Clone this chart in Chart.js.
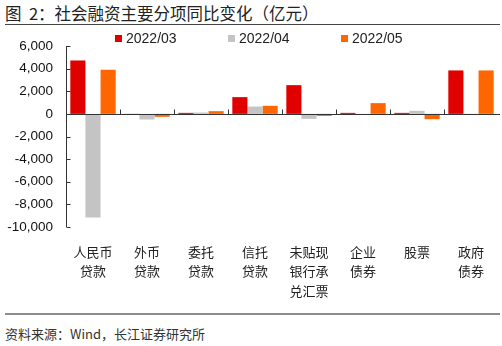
<!DOCTYPE html>
<html>
<head>
<meta charset="utf-8">
<script src="https://cdn.jsdelivr.net/npm/chart.js@4.4.0/dist/chart.umd.min.js"></script>
<style>
    body { margin: 0; background: #fff; }
    #wrap { position: relative; width: 502px; height: 346px; overflow: hidden; font-family: "Noto Sans CJK SC", "Liberation Sans", sans-serif; }
    #title { position: absolute; left: 5px; top: 3px; font-size: 16.5px; color: #222; white-space: nowrap; line-height: 20px; }
    #topLine { position: absolute; left: 5px; top: 24px; width: 495px; height: 1px; background: #444; }
    #legend { position: absolute; top: 29px; left: 0; width: 502px; height: 18px; font-family: "Liberation Sans", Arial, sans-serif; font-size: 14px; color: #222; }
    #legend span.item { position: absolute; top: 0; line-height: 18px; white-space: nowrap; }
    #legend i { display: inline-block; width: 7px; height: 7px; margin-right: 4px; vertical-align: 1px; }
    #chartBox { position: absolute; left: 0; top: 0; width: 502px; height: 310px; }
    #bottomLine { position: absolute; left: 5px; top: 313px; width: 495px; height: 2px; background: #8c8c8c; }
    #source { position: absolute; left: 5px; top: 325px; font-size: 13px; color: #333; white-space: nowrap; line-height: 18px; }
</style>
</head>
<body>
<div id="wrap">
    <div id="title">图&nbsp;&nbsp;2：社会融资主要分项同比变化（亿元）</div>
    <div id="topLine"></div>
    <div id="chartBox"><canvas id="financeChart"></canvas></div>
    <div id="legend"></div>
    <div id="bottomLine"></div>
    <div id="source">资料来源：Wind，长江证券研究所</div>
</div>
<script>
const categories = [
    ['人民币', '贷款'],
    ['外币', '贷款'],
    ['委托', '贷款'],
    ['信托', '贷款'],
    ['未贴现', '银行承', '兑汇票'],
    ['企业', '债券'],
    ['股票'],
    ['政府', '债券']
];
const seriesNames = ['2022/03', '2022/04', '2022/05'];
const seriesColors = ['#e00000', '#c4c4c4', '#ff6600'];
const values0322 = [4720, -20, 90, 1480, 2540, 90, 90, 3840];
const values0422 = [-9150, -500, 120, 650, -440, -50, 270, 20];
const values0522 = [3900, -260, 240, 710, -180, 950, -470, 3840];
const yTicks = [6000, 4000, 2000, 0, -2000, -4000, -6000, -8000, -10000];

// legend positions (px) in html
const legendX = [115, 228, 341];
const legendEl = document.getElementById('legend');
seriesNames.forEach((name, i) => {
    const item = document.createElement('span');
    item.className = 'item';
    item.style.left = legendX[i] + 'px';
    item.innerHTML = '<i style="background:' + seriesColors[i] + '"></i>' + name;
    legendEl.appendChild(item);
});

// axis line, zero line and the small inner tick marks
const axisMarks = {
    id: 'axisMarks',
    afterDatasetsDraw(chart) {
        const { ctx, chartArea, scales } = chart;
        const x = scales.x, y = scales.y;
        const zeroY = Math.round(y.getPixelForValue(0)) + 0.5;
        const left = Math.round(chartArea.left) + 0.5;
        ctx.save();
        ctx.strokeStyle = '#333';
        ctx.lineWidth = 1;
        ctx.beginPath();
        ctx.moveTo(left, chartArea.top);
        ctx.lineTo(left, chartArea.bottom);
        yTicks.forEach(v => {
            const py = Math.round(y.getPixelForValue(v)) + 0.5;
            ctx.moveTo(left, py);
            ctx.lineTo(left + 4, py);
        });
        ctx.moveTo(left, zeroY);
        ctx.lineTo(chartArea.right + 2, zeroY);
        const half = (x.getPixelForValue(1) - x.getPixelForValue(0)) / 2;
        for (let i = 1; i < categories.length; i++) {
            const px = Math.round(x.getPixelForValue(i) - half) + 0.5;
            ctx.moveTo(px, zeroY);
            ctx.lineTo(px, zeroY - 5);
        }
        ctx.stroke();
        ctx.restore();
    }
};

const ctx = document.getElementById('financeChart').getContext('2d');
const financeChart = new Chart(ctx, {
    type: 'bar',
    data: {
        labels: categories,
        datasets: [values0322, values0422, values0522].map((vals, i) => ({
            label: seriesNames[i],
            data: vals,
            backgroundColor: seriesColors[i],
            borderWidth: 0,
            categoryPercentage: 0.84,
            barPercentage: 1.0
        }))
    },
    options: {
        responsive: true,
        maintainAspectRatio: false,
        animation: false,
        layout: { padding: { top: 46, right: 4, bottom: 0, left: 0 } },
        plugins: {
            legend: { display: false },
            tooltip: { enabled: false }
        },
        scales: {
            x: {
                grid: { display: false, drawTicks: false },
                border: { display: false },
                ticks: {
                    color: '#222',
                    padding: 15,
                    maxRotation: 0,
                    autoSkip: false,
                    font: { family: '"Noto Sans CJK SC", sans-serif', size: 13, lineHeight: 1.5 }
                },
                afterFit(scale) { scale.height = 83; }
            },
            y: {
                min: -10000,
                max: 6000,
                grid: { display: false, drawTicks: false },
                border: { display: false },
                afterBuildTicks(scale) { scale.ticks = yTicks.map(v => ({ value: v })); },
                ticks: {
                    color: '#111',
                    padding: 13,
                    font: { family: '"Liberation Sans", Arial, sans-serif', size: 13.5 },
                    callback: (value) => value.toLocaleString('en-US')
                },
                afterFit(scale) { scale.width = 66; }
            }
        }
    },
    plugins: [axisMarks]
});
</script>
</body>
</html>
